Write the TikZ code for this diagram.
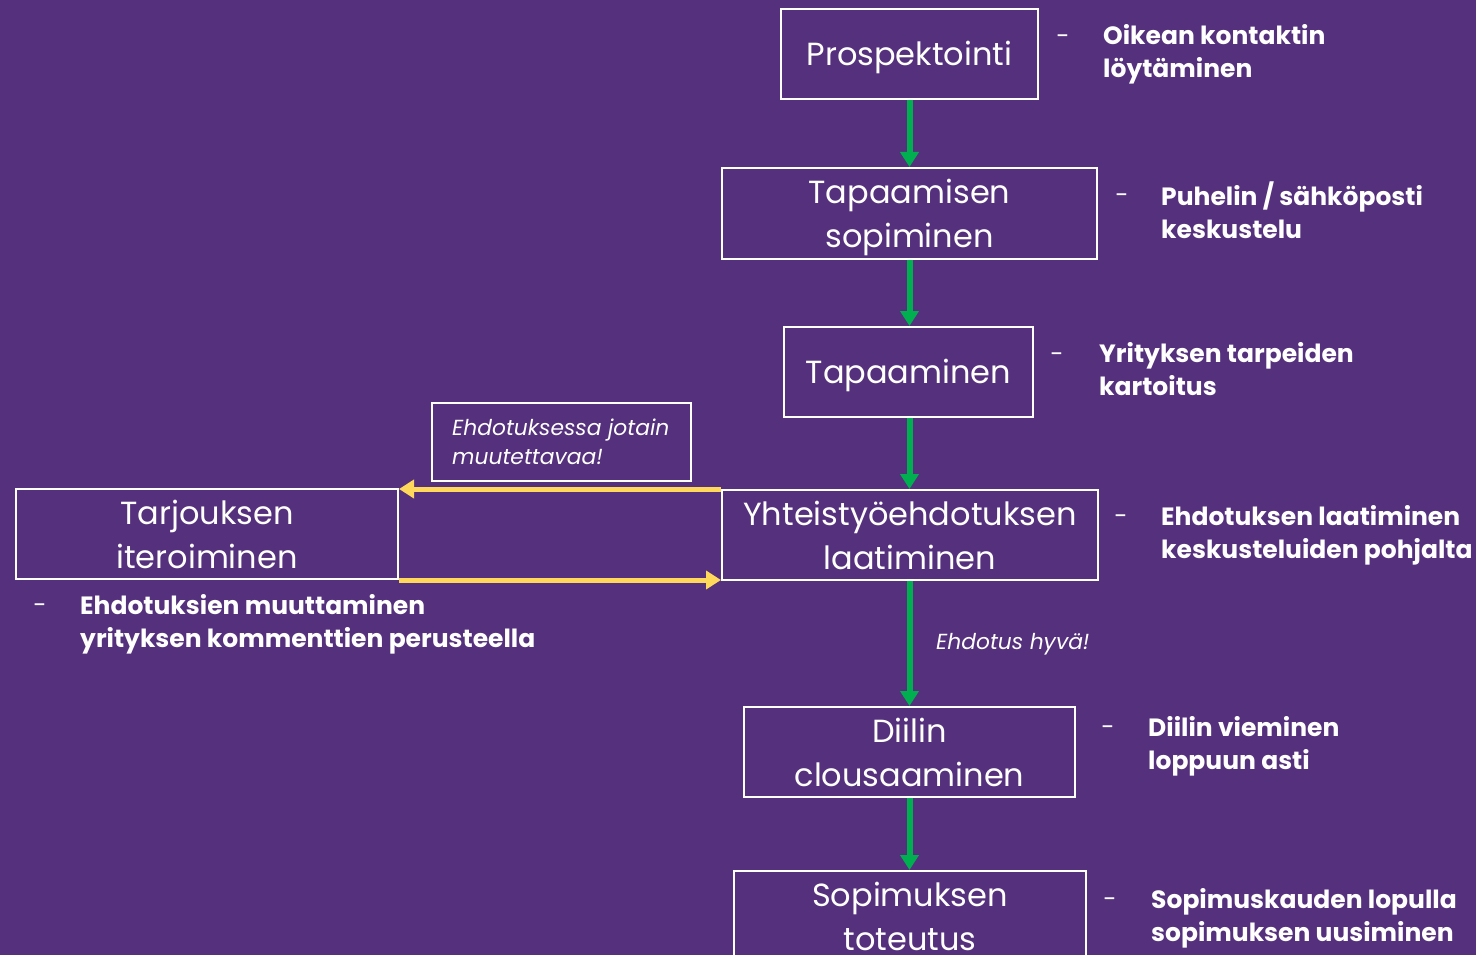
\documentclass[tikz,border=0pt]{standalone}
\usepackage{fontspec}
\setmainfont{Poppins}
\usetikzlibrary{arrows.meta}
\definecolor{bgpurple}{HTML}{55307C}
\definecolor{arrgreen}{HTML}{00B050}
\definecolor{arryellow}{HTML}{FFD75A}
\newcommand{\bxt}[2][0pt]{\raisebox{#1}[\height][\depth]{\begin{tabular}{@{}c@{}}#2\end{tabular}}}
\begin{document}
\begin{tikzpicture}[x=1pt,y=-1pt,
  stepbox/.style={draw=white,line width=2pt,text=white,align=center,inner sep=0pt,
    font=\fontsize{32}{44}\selectfont},
  notetxt/.style={text=white,anchor=west,align=left,inner sep=0pt,
    font=\fontsize{25}{33}\selectfont\bfseries},
  dashtxt/.style={text=white,inner sep=0pt,font=\fontsize{24}{33}\selectfont},
  garrow/.style={draw=arrgreen,line width=6pt,-{Triangle[length=15pt,width=18pt]}},
  yarrow/.style={draw=arryellow,line width=5pt,-{Triangle[length=15pt,width=18pt]}},
  labtxt/.style={text=white,inner sep=0pt,font=\fontsize{21.8}{29}\selectfont\itshape}
]
\fill[bgpurple] (0,0) rectangle (1476,955);
\useasboundingbox (0,0) rectangle (1476,955);

\node[stepbox,minimum width=257pt,minimum height=90pt] (p) at (909.5,54) {\bxt[-3pt]{Prospektointi}};
\node[stepbox,minimum width=375pt,minimum height=91pt] (ts) at (909.5,213.5) {\bxt[-3pt]{Tapaamisen\\sopiminen}};
\node[stepbox,minimum width=249pt,minimum height=90pt] (t) at (908.5,372) {\bxt[-3pt]{Tapaaminen}};
\node[stepbox,minimum width=376pt,minimum height=90pt] (y) at (910,535) {\bxt[-3.5pt]{Yhteistyöehdotuksen\\laatiminen}};
\node[stepbox,minimum width=331pt,minimum height=90pt] (d) at (909.5,752) {\bxt[-3.5pt]{Diilin\\clousaaminen}};
\node[stepbox,minimum width=352pt,minimum height=90pt] (s) at (910,916) {\bxt[-3.5pt]{Sopimuksen\\toteutus}};
\node[stepbox,minimum width=382pt,minimum height=90pt] (ti) at (207,534) {\bxt[-3.5pt]{Tarjouksen\\iteroiminen}};
\node[draw=white,line width=1.5pt,minimum width=259pt,minimum height=78pt,
  inner sep=0pt] (eb) at (561.5,442) {};
\node[labtxt,anchor=west,align=left] (ebt) at (452,442) {Ehdotuksessa jotain\\muutettavaa!};

\draw[garrow] (p.south) -- (ts.north);
\draw[garrow] (ts.south) -- (t.north -| ts.south);
\draw[garrow] (t.south -| ts.south) -- (y.north -| ts.south);
\draw[garrow] (y.south -| ts.south) -- (d.north -| ts.south);
\draw[garrow] (d.south -| ts.south) -- (s.north -| ts.south);

\draw[yarrow] (y.north west) -- (y.north west -| ti.east);
\draw[yarrow] (ti.south east) -- (ti.south east -| y.west);

\node[labtxt,anchor=west] (ok) at (936,644) {Ehdotus hyvä!};

\node[dashtxt] (d1) at (1063,40) {-};
\node[notetxt] (n1) at (1103,54) {Oikean kontaktin\\löytäminen};
\node[dashtxt] (d2) at (1122,199) {-};
\node[notetxt] (n2) at (1161,210) {Puhelin / sähköposti\\keskustelu};
\node[dashtxt] (d3) at (1057,358) {-};
\node[notetxt] (n3) at (1099,369) {Yrityksen tarpeiden\\kartoitus};
\node[dashtxt] (d4) at (1121,520) {-};
\node[notetxt] (n4) at (1161,535) {Ehdotuksen laatiminen\\keskusteluiden pohjalta};
\node[dashtxt] (d5) at (1108,731) {-};
\node[notetxt] (n5) at (1148,746) {Diilin vieminen\\loppuun asti};
\node[dashtxt] (d6) at (1110,903) {-};
\node[notetxt] (n6) at (1151,918) {Sopimuskauden lopulla\\sopimuksen uusiminen};
\node[dashtxt] (d7) at (40,609) {-};
\node[notetxt] (n7) at (80,624) {Ehdotuksien muuttaminen\\yrityksen kommenttien perusteella};
\end{tikzpicture}
\end{document}
